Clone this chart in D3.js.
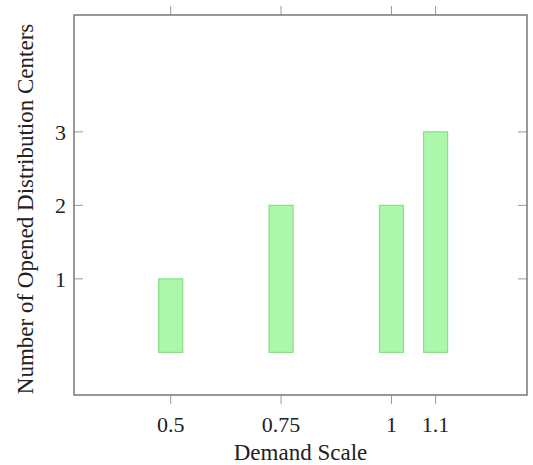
<!DOCTYPE html>
<html>
<head>
<meta charset="utf-8">
<script src="https://cdn.jsdelivr.net/npm/d3@7"></script>
<style>
  body { margin: 0; background: #fff; }
  text { font-family: "Liberation Serif", "DejaVu Serif", serif; fill: #222; }
</style>
</head>
<body>
<svg id="chart"></svg>
<script>
// data
let demandScale = [0.5, 0.75, 1, 1.1];
let openedCenters = [1, 2, 2, 3];
let xTicks = [0.5, 0.75, 1, 1.1];
let yTicks = [1, 2, 3];

let WIDTH = 533;
let HEIGHT = 465;

let plot = { left: 74, right: 527, top: 15, bottom: 395 };

let svg = d3.select("#chart")
  .attr("width", WIDTH)
  .attr("height", HEIGHT);

let x = d3.scaleLinear()
  .domain([0.281, 1.307])
  .range([plot.left, plot.right]);

let y = d3.scaleLinear()
  .domain([-0.58, 4.59])
  .range([plot.bottom, plot.top]);

let barW = 24;

// bars
svg.selectAll(".bar")
  .data(demandScale)
.enter().append("rect")
  .attr("class", "bar")
  .attr("x", d => x(d) - barW / 2)
  .attr("y", (d, i) => y(openedCenters[i]))
  .attr("width", barW)
  .attr("height", (d, i) => y(0) - y(openedCenters[i]))
  .style("fill", "#adf7ad")
  .style("stroke", "#86e086")
  .style("stroke-width", 1.2);

let tickColor = "#999";

// x ticks, outside on bottom and top
let xTickG = svg.append("g");
xTicks.forEach(t => {
  xTickG.append("line")
    .attr("x1", x(t)).attr("x2", x(t))
    .attr("y1", plot.bottom).attr("y2", plot.bottom + 9)
    .style("stroke", tickColor);
  xTickG.append("line")
    .attr("x1", x(t)).attr("x2", x(t))
    .attr("y1", plot.top).attr("y2", plot.top - 9)
    .style("stroke", tickColor);
  xTickG.append("text")
    .attr("x", x(t))
    .attr("y", 432)
    .attr("text-anchor", "middle")
    .style("font-size", "22px")
    .text(String(t));
});

// y ticks, inside on left and right
let yTickG = svg.append("g");
yTicks.forEach(t => {
  yTickG.append("line")
    .attr("x1", plot.left).attr("x2", plot.left + 9)
    .attr("y1", y(t)).attr("y2", y(t))
    .style("stroke", tickColor);
  yTickG.append("line")
    .attr("x1", plot.right).attr("x2", plot.right - 9)
    .attr("y1", y(t)).attr("y2", y(t))
    .style("stroke", tickColor);
  yTickG.append("text")
    .attr("x", 66)
    .attr("y", y(t))
    .attr("dy", "0.35em")
    .attr("text-anchor", "end")
    .style("font-size", "22px")
    .text(String(t));
});

// frame
svg.append("rect")
  .attr("x", plot.left)
  .attr("y", plot.top)
  .attr("width", plot.right - plot.left)
  .attr("height", plot.bottom - plot.top)
  .style("fill", "none")
  .style("stroke", "#777")
  .style("stroke-width", 1.5);

// axis labels
svg.append("text")
  .attr("x", (plot.left + plot.right) / 2)
  .attr("y", 460)
  .attr("text-anchor", "middle")
  .style("font-size", "23px")
  .text("Demand Scale");

svg.append("text")
  .attr("transform", "translate(33," + ((plot.top + plot.bottom) / 2 + 4) + ") rotate(-90)")
  .attr("text-anchor", "middle")
  .style("font-size", "23px")
  .text("Number of Opened Distribution Centers");
</script>
</body>
</html>
